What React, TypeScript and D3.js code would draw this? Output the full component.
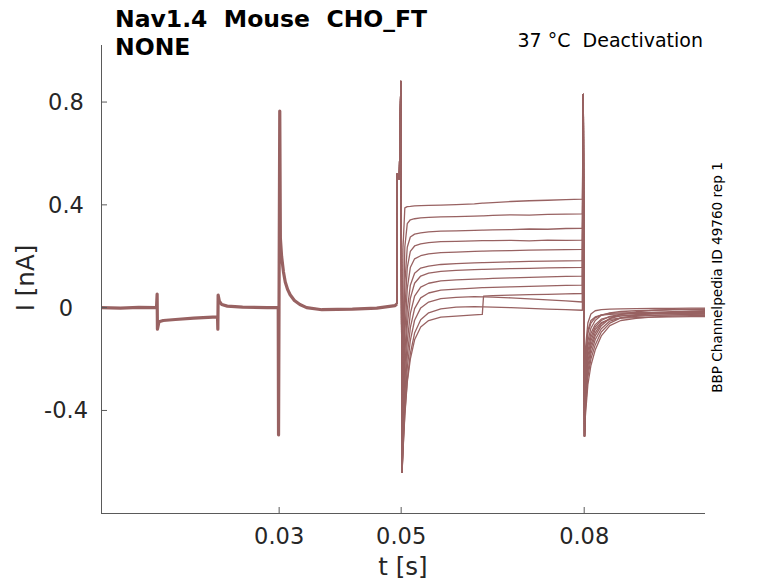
import React from "react";
import * as d3 from "d3";

// ---------- data ----------
const xTicks = [0.03, 0.05, 0.08];
const xTickLabels = ["0.03", "0.05", "0.08"];
const yTicks = [0.8, 0.4, 0, -0.4];
const yTickLabels = ["0.8", "0.4", "0", "-0.4"];

// shared holding / pre-pulse segment (all sweeps overlap)
const baseTimes = [
  0.0008, 0.004, 0.007, 0.0099, 0.01, 0.01005, 0.0103, 0.011, 0.013, 0.016, 0.0199,
  0.01995, 0.02, 0.0202, 0.0206, 0.0215, 0.024, 0.028, 0.02985, 0.0299, 0.0301,
  0.0302, 0.0304, 0.0307, 0.031, 0.0314, 0.0318, 0.0325, 0.0334, 0.0345, 0.037,
  0.042, 0.046, 0.049, 0.0493,
];
const baseValues = [
  0.0, -0.002, 0.001, 0.0, 0.053, -0.084, -0.055, -0.05, -0.046, -0.041, -0.036,
  -0.084, 0.049, 0.025, 0.012, 0.006, 0.002, 0.0, 0.0, -0.495, 0.765,
  0.27, 0.2, 0.14, 0.1, 0.07, 0.05, 0.028, 0.012, 0.0, -0.008,
  -0.006, -0.002, 0.008, 0.015,
];

// activation step transient (common)
const actTimes = [0.04935, 0.0497, 0.04995, 0.05015];
const actValues = [0.52, 0.5, 0.88, -0.64];

// recovery after the activation transient
const recoveryTimes = [0.0503, 0.0506, 0.051, 0.0515, 0.0522, 0.0532, 0.0545, 0.0565];
const sweepRecovery = [
  [0.233, 0.388, 0.393, 0.394, 0.396, 0.397, 0.398, 0.399],
  [-0.124, 0.236, 0.327, 0.342, 0.346, 0.349, 0.351, 0.353],
  [-0.26, 0.093, 0.235, 0.275, 0.286, 0.291, 0.295, 0.298],
  [-0.338, -0.011, 0.156, 0.219, 0.24, 0.248, 0.253, 0.257],
  [-0.395, -0.101, 0.075, 0.156, 0.19, 0.202, 0.209, 0.214],
  [-0.442, -0.183, -0.008, 0.087, 0.134, 0.154, 0.162, 0.168],
  [-0.472, -0.241, -0.068, 0.036, 0.095, 0.123, 0.134, 0.141],
  [-0.499, -0.296, -0.132, -0.023, 0.045, 0.08, 0.095, 0.104],
  [-0.52, -0.34, -0.187, -0.078, -0.004, 0.038, 0.057, 0.068],
  [-0.537, -0.378, -0.235, -0.128, -0.049, -0.001, 0.022, 0.035],
  [-0.552, -0.412, -0.282, -0.179, -0.099, -0.047, -0.02, -0.005],
  [-0.56, -0.42, -0.29, -0.2, -0.125, -0.075, -0.05, -0.037],
];

// steady plateau during the test pulse
const plateauTimes = [0.059, 0.062, 0.0633, 0.0635, 0.065, 0.068, 0.071, 0.074, 0.077, 0.0797];
const sweepPlateau = [
  [0.401, 0.404, 0.407, 0.407, 0.409, 0.413, 0.416, 0.418, 0.42, 0.422],
  [0.354, 0.356, 0.357, 0.357, 0.359, 0.361, 0.36, 0.363, 0.364, 0.365],
  [0.299, 0.301, 0.302, 0.302, 0.303, 0.304, 0.306, 0.305, 0.308, 0.309],
  [0.258, 0.26, 0.261, 0.261, 0.261, 0.262, 0.26, 0.263, 0.262, 0.263],
  [0.216, 0.219, 0.22, 0.22, 0.221, 0.222, 0.224, 0.225, 0.226, 0.227],
  [0.171, 0.174, 0.175, 0.175, 0.176, 0.178, 0.18, 0.181, 0.182, 0.183],
  [0.145, 0.148, 0.149, 0.149, 0.15, 0.152, 0.153, 0.155, 0.156, 0.157],
  [0.108, 0.111, 0.112, 0.112, 0.114, 0.116, 0.118, 0.12, 0.122, 0.123],
  [0.072, 0.076, 0.078, 0.078, 0.079, 0.081, 0.083, 0.085, 0.087, 0.088],
  [0.04, 0.043, 0.042, 0.042, 0.041, 0.038, 0.034, 0.03, 0.026, 0.022],
  [0.002, 0.004, 0.003, 0.003, 0.002, 0.0, -0.003, -0.006, -0.008, -0.01],
  [-0.033, -0.028, -0.026, 0.045, 0.047, 0.049, 0.051, 0.052, 0.054, 0.055],
];

// deactivation step transient (common)
const deactTimes = [0.07985, 0.08005];
const deactValues = [0.83, -0.5];

// tail currents
const tailTimes = [0.0802, 0.0806, 0.0811, 0.0818, 0.0828, 0.0842, 0.086, 0.0885, 0.0915, 0.0945, 0.0975, 0.0998];
const sweepTail = [
  [-0.42, -0.3, -0.225, -0.165, -0.11, -0.07, -0.05, -0.042, -0.036, -0.033, -0.031, -0.03],
  [-0.4, -0.27, -0.2, -0.145, -0.095, -0.06, -0.04, -0.03, -0.022, -0.017, -0.014, -0.012],
  [-0.38, -0.25, -0.18, -0.125, -0.082, -0.052, -0.04, -0.034, -0.03, -0.028, -0.026, -0.025],
  [-0.36, -0.23, -0.16, -0.11, -0.07, -0.042, -0.026, -0.016, -0.01, -0.007, -0.006, -0.005],
  [-0.34, -0.21, -0.145, -0.098, -0.062, -0.042, -0.032, -0.027, -0.024, -0.022, -0.021, -0.02],
  [-0.32, -0.19, -0.13, -0.085, -0.058, -0.046, -0.041, -0.039, -0.037, -0.036, -0.035, -0.035],
  [-0.3, -0.17, -0.115, -0.075, -0.05, -0.034, -0.026, -0.021, -0.018, -0.016, -0.015, -0.015],
  [-0.28, -0.15, -0.1, -0.066, -0.045, -0.036, -0.032, -0.03, -0.029, -0.028, -0.028, -0.028],
  [-0.26, -0.13, -0.08, -0.05, -0.03, -0.02, -0.015, -0.012, -0.01, -0.009, -0.008, -0.008],
  [-0.2, -0.09, -0.05, -0.036, -0.029, -0.026, -0.024, -0.023, -0.022, -0.022, -0.022, -0.022],
  [-0.16, -0.06, -0.025, -0.012, -0.008, -0.006, -0.005, -0.004, -0.003, -0.003, -0.002, -0.002],
  [-0.22, -0.1, -0.06, -0.04, -0.028, -0.022, -0.02, -0.019, -0.018, -0.018, -0.018, -0.018],
];

const title1 = "Nav1.4  Mouse  CHO_FT";
const title2 = "NONE";
const subtitle = "37 °C  Deactivation";
const sideNote = "BBP Channelpedia ID 49760 rep 1";
const xLabel = "t [s]";
const yLabel = "I [nA]";

// ---------- chart ----------
const W = 778;
const H = 583;
const left = 101;
const right = 705;
const top = 45;
const bottom = 513;
const traceColor = "#986262";
const axisColor = "#5a5a5a";
const textColor = "#262626";

const zip = (ts: number[], vs: number[]) => ts.map((t, i) => [t, vs[i]] as [number, number]);

export default function App() {
  const x = d3.scaleLinear().domain([0.0008, 0.0998]).range([left, right]);
  const y = d3.scaleLinear().domain([-0.799, 1.022]).range([bottom, top]);
  const line = d3
    .line<[number, number]>()
    .x((d) => x(d[0]))
    .y((d) => y(d[1]));

  const basePts = zip(baseTimes, baseValues);
  const sweeps = sweepRecovery.map((rec, i) => [
    basePts[basePts.length - 1],
    ...zip(actTimes, actValues),
    ...zip(recoveryTimes, rec),
    ...zip(plateauTimes, sweepPlateau[i]),
    ...zip(deactTimes, deactValues),
    ...zip(tailTimes, sweepTail[i]),
  ]);

  const pre = { whiteSpace: "pre" as const };

  return (
    <svg
      width={W}
      height={H}
      style={{ position: "absolute", left: 0, top: 0, background: "#fff" }}
      fontFamily="DejaVu Sans, sans-serif"
    >
      <rect x={0} y={0} width={W} height={H} fill="#fff" />
      {/* traces */}
      <g fill="none" stroke={traceColor} strokeLinejoin="round">
        <path d={line(basePts) || ""} strokeWidth={3.2} />
        {sweeps.map((s, i) => (
          <path key={i} d={line(s) || ""} strokeWidth={1.3} />
        ))}
      </g>
      {/* axes */}
      <g stroke={axisColor} strokeWidth={1} fill="none">
        <line x1={left + 0.5} x2={left + 0.5} y1={top} y2={bottom + 0.5} />
        <line x1={left} x2={right} y1={bottom + 0.5} y2={bottom + 0.5} />
        {yTicks.map((t) => (
          <line key={t} x1={left} x2={left + 6} y1={y(t)} y2={y(t)} />
        ))}
        {xTicks.map((t) => (
          <line key={t} x1={x(t)} x2={x(t)} y1={bottom} y2={bottom - 6} />
        ))}
      </g>
      <g fill={textColor} fontSize={22.5}>
        {yTicks.map((t, i) => (
          <text key={t} x={66} y={y(t) + 8} textAnchor="middle">
            {yTickLabels[i]}
          </text>
        ))}
        {xTicks.map((t, i) => (
          <text key={t} x={x(t)} y={544} textAnchor="middle">
            {xTickLabels[i]}
          </text>
        ))}
      </g>
      <text x={(left + right) / 2} y={575} textAnchor="middle" fontSize={24.5} fill={textColor}>
        {xLabel}
      </text>
      <text
        transform={`translate(34,278) rotate(-90)`}
        textAnchor="middle"
        fontSize={24.5}
        fill={textColor}
      >
        {yLabel}
      </text>
      <text x={115} y={27} fontSize={23.5} fontWeight="bold" fill="#000" style={pre}>
        {title1}
      </text>
      <text x={115} y={55} fontSize={23.5} fontWeight="bold" fill="#000" style={pre}>
        {title2}
      </text>
      <text x={703} y={47} fontSize={19} textAnchor="end" fill="#000" style={pre}>
        {subtitle}
      </text>
      <text
        transform={`translate(721.5,277.5) rotate(-90)`}
        textAnchor="middle"
        fontSize={13.6}
        fill="#000"
      >
        {sideNote}
      </text>
    </svg>
  );
}
